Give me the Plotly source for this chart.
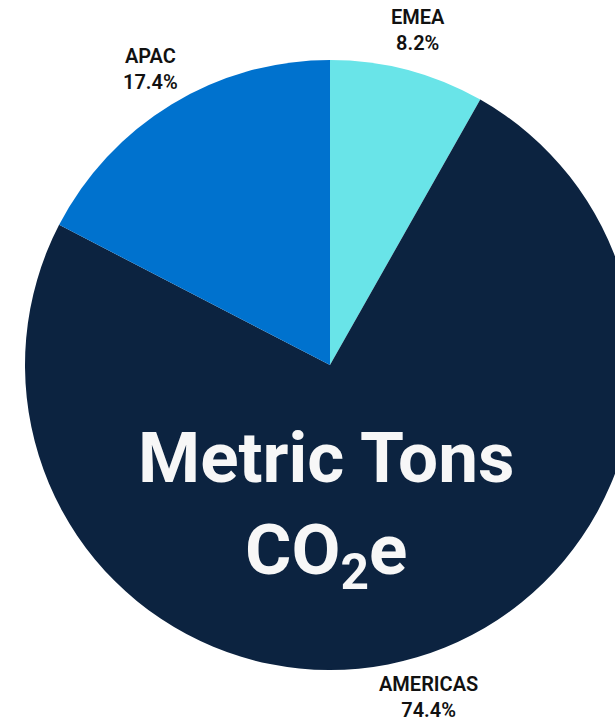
import math
import plotly.graph_objects as go

regions = ["EMEA", "AMERICAS", "APAC"]
shares = [8.2, 74.4, 17.4]
colors = ["#69E4E8", "#0C2340", "#0072CE"]

W, H = 660, 724
CX, CY, R = 330, 365, 305  # pie centre and radius in pixels
LABEL_GAP = 41

fig = go.Figure(go.Pie(
    labels=regions,
    values=shares,
    sort=False,
    direction="clockwise",
    rotation=0,
    marker=dict(colors=colors, line=dict(width=0)),
    textinfo="none",
    domain=dict(x=[(CX - R) / W, (CX + R) / W], y=[(H - CY - R) / H, (H - CY + R) / H]),
    hoverinfo="label+percent",
))

# outside labels centred on each slice's mid-angle
total = sum(shares)
cum = 0.0
for name, v in zip(regions, shares):
    mid = (cum + v / 2) / total * 2 * math.pi
    cum += v
    px = CX + (R + LABEL_GAP) * math.sin(mid)
    py = CY - (R + LABEL_GAP) * math.cos(mid)
    fig.add_annotation(
        x=px / W, y=1 - py / H, xref="paper", yref="paper",
        text=f"{name}<br>{v / total * 100:.1f}%",
        showarrow=False, xanchor="center", yanchor="middle", align="center",
        font=dict(family="Roboto", size=20, color="#111111", weight=600),
    )

fig.add_annotation(
    x=326 / W, y=1 - 509 / H, xref="paper", yref="paper",
    text="Metric Tons<br>CO<sub>2</sub>e",
    showarrow=False,
    font=dict(family="Roboto", size=71, color="#F7F7F7", weight=700),
    xanchor="center", yanchor="middle", align="center",
)

fig.update_layout(
    width=W, height=H,
    margin=dict(l=0, r=0, t=0, b=0),
    showlegend=False,
    paper_bgcolor="white",
    plot_bgcolor="white",
)

fig.write_html(
    "out.html",
    post_script="document.body.style.overflow='hidden';document.documentElement.style.overflow='hidden';",
)
